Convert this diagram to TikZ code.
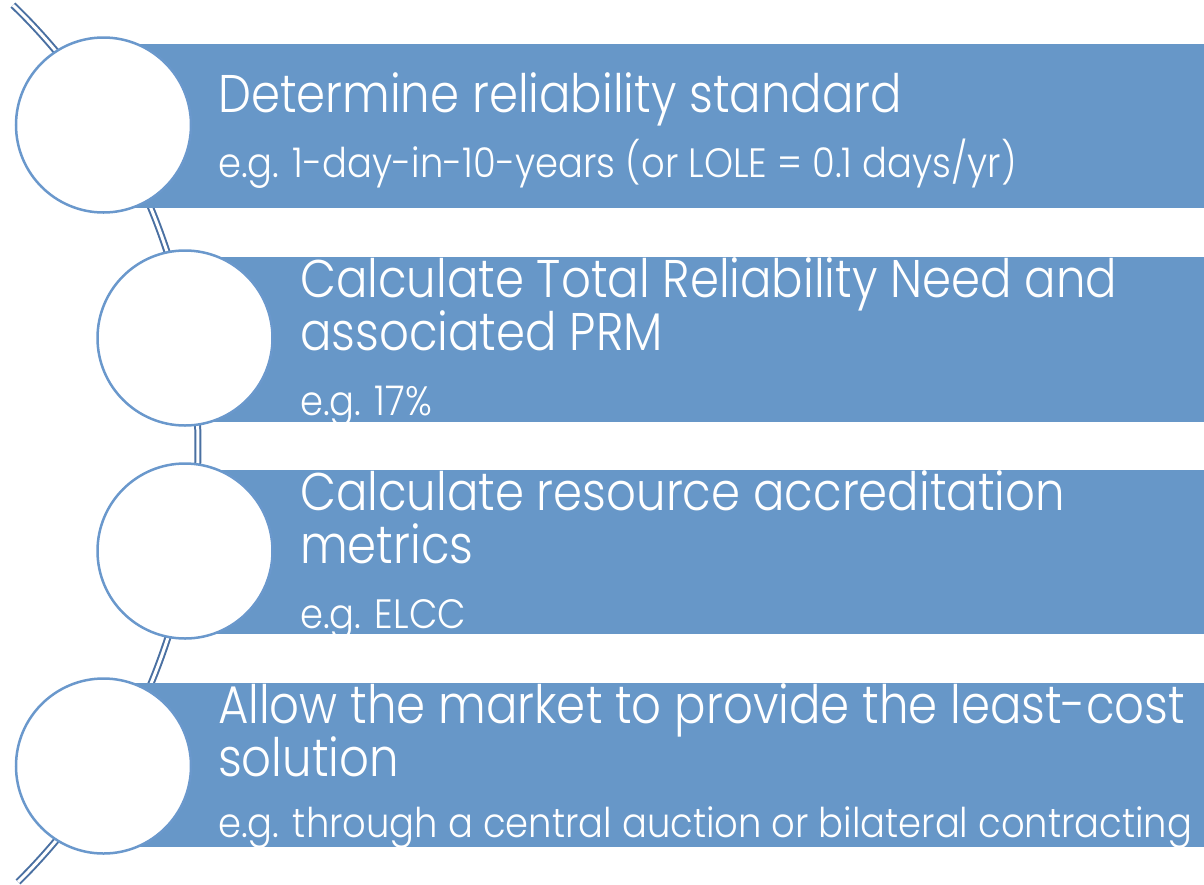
\documentclass[tikz,border=0pt]{standalone}
\usepackage{fontspec}
\newfontfamily\mainf{Poppins Light}[FakeStretch=0.88]
\newfontfamily\subf{Poppins Light}[FakeStretch=0.9]
\definecolor{boxblue}{HTML}{6797C8}
\definecolor{ringblue}{HTML}{6A98CC}
\definecolor{arcblue}{HTML}{4A70A2}
\begin{document}
\begin{tikzpicture}[x=1pt,y=-1pt,
  band/.style={fill=boxblue, draw=none, rectangle, anchor=north west, inner sep=0pt},
  ring/.style={circle, draw=ringblue, line width=2.5pt, fill=white, minimum size=175pt, inner sep=0pt},
  head/.style={anchor=base west, text=white, inner sep=0pt, font=\mainf\fontsize{53}{53}\selectfont},
  sub/.style={anchor=base west, text=white, inner sep=0pt, font=\subf\fontsize{41}{43}\selectfont},
  spine/.style={draw=arcblue, line width=2pt, double=white, double distance=3pt}]
\useasboundingbox (0,0) rectangle (1204,884);
% spine arc
\draw[spine] plot[domain=-47.3:46.6, samples=120, smooth] ({-377+575*cos(\x)},{446+600*sin(\x)});
% bands
\node[band, minimum width=1100pt, minimum height=164pt] (b1) at (104,44) {};
\node[band, minimum width=1019pt, minimum height=165pt] (b2) at (185,257) {};
\node[band, minimum width=1019pt, minimum height=164pt] (b3) at (185,470) {};
\node[band, minimum width=1100pt, minimum height=164pt] (b4) at (104,683) {};
% circles
\node[ring] (c1) at (103.5,125) {};
\node[ring] (c2) at (185,338) {};
\node[ring] (c3) at (185,551) {};
\node[ring] (c4) at (103.5,766) {};
% texts
\node[head] (t1) at (218,112) {Determine reliability standard};
\node[sub] (s1) at (218,177) {e.g. 1-day-in-10-years (or LOLE = 0.1 days/yr)};
\node[head] (t2a) at (300,297) {Calculate Total Reliability Need and};
\node[head] (t2b) at (300,350) {associated PRM};
\node[sub] (s2) at (300,415) {e.g. 17\%};
\node[head] (t3a) at (300,510) {Calculate resource accreditation};
\node[head] (t3b) at (300,563) {metrics};
\node[sub] (s3) at (300,628) {e.g. ELCC};
\node[head] (t4a) at (218,723) {Allow the market to provide the least-cost};
\node[head] (t4b) at (218,776) {solution};
\node[sub] (s4) at (218,837) {e.g. through a central auction or bilateral contracting};
\end{tikzpicture}
\end{document}
